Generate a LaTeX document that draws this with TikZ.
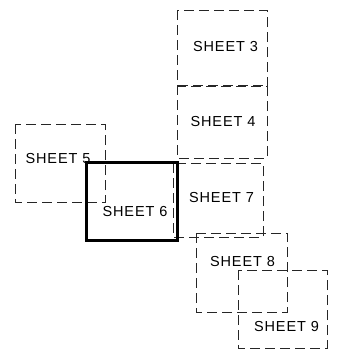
\documentclass[tikz,border=0pt]{standalone}
\usepackage{fontspec}
\setmainfont[LetterSpace=6]{Liberation Sans}
\usetikzlibrary{calc}

\tikzset{
	sheetline/.style={draw=black!85, line width=1bp, dash pattern=on 10bp off 5bp},
	curline/.style={draw=black, line width=3bp},
	sheetlabel/.style={inner sep=0pt, font=\fontsize{14.5bp}{14.5bp}\selectfont}
}

\begin{document}
\begin{tikzpicture}[x=1bp, y=-1bp]

	% page frame
	\useasboundingbox (0,0) rectangle (343,350);

	% save sheet corners for later
	\coordinate (c3a) at (177,10);		\coordinate (c3b) at (267,86);
	\coordinate (c4a) at (177,85);		\coordinate (c4b) at (267,158);
	\coordinate (c5a) at (15,124);		\coordinate (c5b) at (105,202);
	\coordinate (c6a) at (86,162);		\coordinate (c6b) at (177,240);
	\coordinate (c7a) at (173,163);		\coordinate (c7b) at (263,237);
	\coordinate (c8a) at (196,233);		\coordinate (c8b) at (287,312);
	\coordinate (c9a) at (238,270);		\coordinate (c9b) at (327,348);

	% draw the neighbouring sheets dashed...
	\draw[sheetline] (c3a) rectangle (c3b);
	\draw[sheetline] (c4a) rectangle (c4b);
	\draw[sheetline] (c5a) rectangle (c5b);
	\draw[sheetline] (c7a) rectangle (c7b);
	\draw[sheetline] (c8a) rectangle (c8b);
	\draw[sheetline] (c9a) rectangle (c9b);

	% current sheet in bold
	\draw[curline] (c6a) rectangle (c6b);

	% nodes with labels
	\node[sheetlabel] (s3) at (225.5,47) {SHEET 3};
	\node[sheetlabel] (s4) at (223,122) {SHEET 4};
	\node[sheetlabel] (s5) at (58,158.5) {SHEET 5};
	\node[sheetlabel] (s6) at (135,212) {SHEET 6};
	\node[sheetlabel] (s7) at (221.5,198) {SHEET 7};
	\node[sheetlabel] (s8) at (242.5,261.5) {SHEET 8};
	\node[sheetlabel] (s9) at (286.5,326.5) {SHEET 9};

\end{tikzpicture}
\end{document}
